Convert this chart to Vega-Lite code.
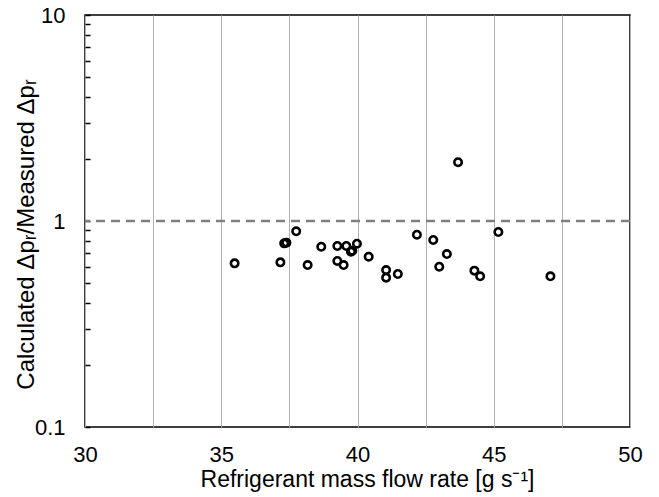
{
  "$schema": "https://vega.github.io/schema/vega-lite/v6.json",
  "autosize": {"type": "none"},
  "width": 545,
  "height": 412,
  "padding": {"left": 85, "top": 15, "right": 29, "bottom": 70},
  "background": "white",
  "config": {
    "font": "Liberation Sans",
    "view": {"stroke": "black", "strokeWidth": 1.5}
  },
  "datasets": {
    "pts": [
      {"flow": 35.49, "ratio": 0.623},
      {"flow": 37.17, "ratio": 0.630},
      {"flow": 37.31, "ratio": 0.779},
      {"flow": 37.39, "ratio": 0.785},
      {"flow": 37.75, "ratio": 0.891},
      {"flow": 38.17, "ratio": 0.611},
      {"flow": 38.67, "ratio": 0.750},
      {"flow": 39.26, "ratio": 0.756},
      {"flow": 39.26, "ratio": 0.640},
      {"flow": 39.49, "ratio": 0.611},
      {"flow": 39.59, "ratio": 0.756},
      {"flow": 39.76, "ratio": 0.710},
      {"flow": 39.81, "ratio": 0.717},
      {"flow": 39.98, "ratio": 0.776},
      {"flow": 40.41, "ratio": 0.671},
      {"flow": 41.05, "ratio": 0.578},
      {"flow": 41.05, "ratio": 0.531},
      {"flow": 41.48, "ratio": 0.553},
      {"flow": 42.18, "ratio": 0.858},
      {"flow": 42.78, "ratio": 0.809},
      {"flow": 43.0, "ratio": 0.600},
      {"flow": 43.28, "ratio": 0.691},
      {"flow": 43.69, "ratio": 1.93},
      {"flow": 44.29, "ratio": 0.574},
      {"flow": 44.50, "ratio": 0.539},
      {"flow": 45.17, "ratio": 0.884},
      {"flow": 47.08, "ratio": 0.539}
    ],
    "ref": [{"ratio": 1}]
  },
  "layer": [
    {
      "data": {"name": "ref"},
      "mark": {"type": "rule", "color": "#7f7f7f", "strokeWidth": 2.5, "strokeDash": [9, 6]},
      "encoding": {
        "y": {"field": "ratio", "type": "quantitative", "scale": {"type": "log", "domain": [0.1, 10]}}
      }
    },
    {
      "data": {"name": "pts"},
      "mark": {"type": "point", "shape": "circle", "filled": false, "stroke": "black", "strokeWidth": 2.6, "size": 55, "opacity": 1},
      "encoding": {
        "x": {
          "field": "flow", "type": "quantitative",
          "scale": {"domain": [30, 50], "nice": false, "zero": false},
          "axis": {
            "title": "Refrigerant mass flow rate [g s⁻¹]",
            "values": [30, 32.5, 35, 37.5, 40, 42.5, 45, 47.5, 50],
            "labelExpr": "datum.value % 5 === 0 ? datum.label : ''",
            "format": "d",
            "ticks": false,
            "domain": false,
            "grid": true,
            "gridColor": "#b0b0b0",
            "gridWidth": 1,
            "gridOpacity": 1,
            "labelFontSize": 22,
            "labelColor": "black",
            "labelPadding": 17,
            "labelFlush": false,
            "titleFontSize": 23,
            "titleFontWeight": "normal",
            "titleColor": "black",
            "titlePadding": 3,
            "titleX": 282
          }
        },
        "y": {
          "field": "ratio", "type": "quantitative",
          "scale": {"type": "log", "domain": [0.1, 10]},
          "axis": {
            "title": "Calculated Δpᵣ/Measured Δpᵣ",
            "values": [0.1, 0.2, 0.3, 0.4, 0.5, 0.6, 0.7, 0.8, 0.9, 1, 2, 3, 4, 5, 6, 7, 8, 9, 10],
            "labelExpr": "datum.value === 0.1 ? '0.1' : (datum.value === 1 ? '1' : (datum.value === 10 ? '10' : ''))",
            "grid": false,
            "domain": false,
            "ticks": true,
            "offset": -5,
            "tickSize": 5,
            "tickColor": "black",
            "tickWidth": 1.5,
            "labelFontSize": 22,
            "labelColor": "black",
            "labelPadding": 20,
            "labelFlush": false,
            "titleFontSize": 24,
            "titleFontWeight": "normal",
            "titleColor": "black",
            "titlePadding": -4,
            "titleY": 219
          }
        }
      }
    }
  ]
}
